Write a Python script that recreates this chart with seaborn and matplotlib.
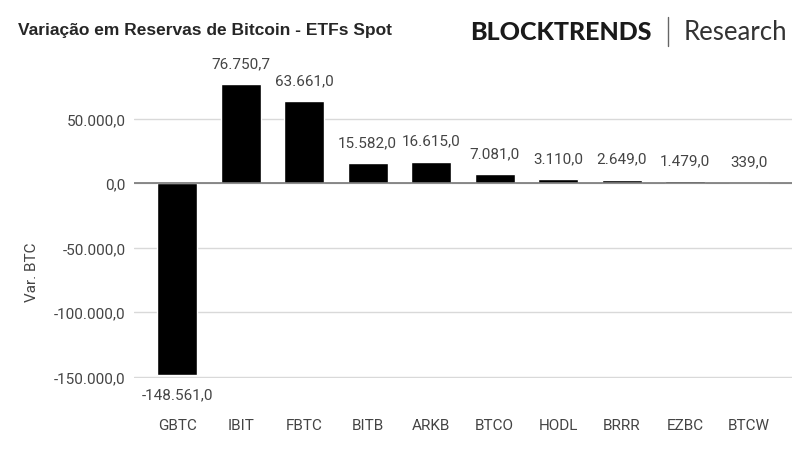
import matplotlib
matplotlib.use("Agg")
from matplotlib import pyplot as plt
import seaborn as sns
import pandas as pd

tickers = ["GBTC", "IBIT", "FBTC", "BITB", "ARKB", "BTCO", "HODL", "BRRR", "EZBC", "BTCW"]
var_btc = [-148561.0, 76750.7, 63661.0, 15582.0, 16615.0, 7081.0, 3110.0, 2649.0, 1479.0, 339.0]
y_ticks = [-150000, -100000, -50000, 0, 50000]


def br_fmt(v, dec=1):
    s = f"{v:,.{dec}f}"
    return s.replace(",", "X").replace(".", ",").replace("X", ".")


df = pd.DataFrame({"ticker": tickers, "var": var_btc})

sns.set_style("white")
plt.rcParams["font.family"] = ["Roboto", "DejaVu Sans"]

fig = plt.figure(figsize=(8.09, 4.52), dpi=100)
# y axis: -151000 at y=379px, 80600 at y=80px
ax = fig.add_axes([0.1656, 1 - 379 / 452, 0.8134, 299 / 452])

sns.barplot(data=df, x="ticker", y="var", color="black", saturation=1,
            width=0.63, ax=ax, zorder=3)

ax.set_ylim(-151000, 80600)
ax.set_xlim(-0.68, 9.68)
ax.set_yticks(y_ticks)
ax.set_yticklabels([br_fmt(t) for t in y_ticks])
ax.grid(axis="y", color="#d9d9d9", linewidth=1, zorder=0)
ax.axhline(0, color="#777777", linewidth=1.2, zorder=4)
for s in ax.spines.values():
    s.set_visible(False)
ax.tick_params(axis="both", length=0, labelsize=11, colors="#444444")
ax.tick_params(axis="x", pad=29)
ax.tick_params(axis="y", pad=6)
ax.set_xlabel("")
ax.set_ylabel("Var. BTC", fontsize=11, color="#444444")
ax.yaxis.set_label_coords(-0.144, 0.356)

for i, v in enumerate(var_btc):
    if v >= 0:
        ax.annotate(br_fmt(v), (i, v), xytext=(0, 10), textcoords="offset points",
                    ha="center", va="bottom", fontsize=11, color="#444444",
                    annotation_clip=False)
    else:
        ax.annotate(br_fmt(v), (i, v), xytext=(0, -9), textcoords="offset points",
                    ha="center", va="top", fontsize=11, color="#444444",
                    annotation_clip=False)

fig.text(18 / 809, 1 - 31 / 452, "Variação em Reservas de Bitcoin - ETFs Spot",
         fontsize=12.5, fontweight="bold", family=["Liberation Sans"], va="center")
fig.text(470 / 809, 1 - 33 / 452, "BLOCKTRENDS", fontsize=18, fontweight="black",
         family=["Lato"], va="center", color="#1a1a1a")
fig.add_artist(plt.Line2D([668 / 809, 668 / 809], [1 - 18 / 452, 1 - 47 / 452],
                          color="#666666", linewidth=1))
fig.text(684 / 809, 1 - 33 / 452, "Research", fontsize=18.5,
         family=["Lato"], va="center", color="#333333")

fig.savefig("out.png", dpi=100, facecolor="white")
